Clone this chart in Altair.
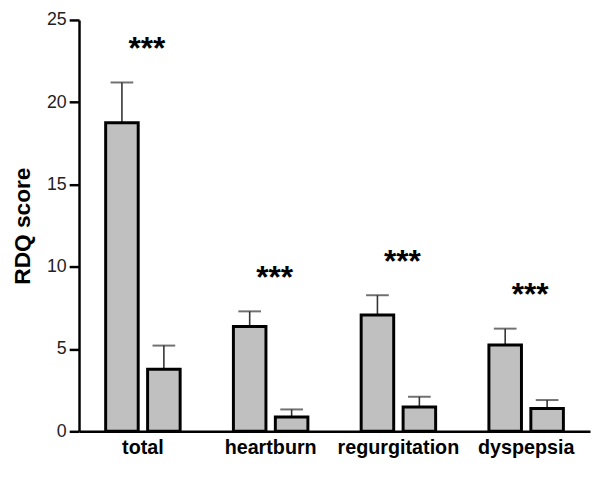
import altair as alt
import pandas as pd

categories = ["total", "heartburn", "regurgitation", "dyspepsia"]
groups = ["before", "after"]
before_mean = [18.75, 6.37, 7.07, 5.24]
before_err = [2.45, 0.92, 1.20, 1.00]
after_mean = [3.77, 0.87, 1.48, 1.39]
after_err = [1.44, 0.46, 0.62, 0.51]
stars = ["***", "***", "***", "***"]
y_ticks = [0, 5, 10, 15, 20, 25]

rows = []
for i, c in enumerate(categories):
    rows.append({"cat": c, "grp": groups[0], "mean": before_mean[i],
                 "upper": before_mean[i] + before_err[i], "star": stars[i]})
    rows.append({"cat": c, "grp": groups[1], "mean": after_mean[i],
                 "upper": after_mean[i] + after_err[i], "star": ""})
df = pd.DataFrame(rows)

FONT = "Liberation Sans"
W, H = 518, 417

x = alt.X("cat:N", sort=categories,
          scale=alt.Scale(paddingInner=0, paddingOuter=0),
          axis=alt.Axis(title=None, ticks=False, domainColor="black",
                        domainWidth=2.5, labelAngle=0, labelFont=FONT,
                        labelFontSize=20, labelFontWeight="bold",
                        labelColor="black", labelPadding=7))
xo = alt.XOffset("grp:N", sort=groups,
                 scale=alt.Scale(paddingInner=0.224, paddingOuter=0.635))
yscale = alt.Scale(domain=[0, 25], nice=False)
yaxis = alt.Axis(title="RDQ score", values=y_ticks, grid=False,
                 domainColor="black", domainWidth=2.5, tickColor="black",
                 tickWidth=2.5, tickSize=10, labelFont=FONT, labelFontSize=18,
                 labelColor="#222222", labelPadding=3, titleFont=FONT,
                 titleFontSize=23, titleFontWeight="bold", titleColor="black",
                 titleX=-50, titleY=H / 2, titleBaseline="alphabetic")

base = alt.Chart(df)

rules = base.mark_rule(color="#333333", strokeWidth=1.6).encode(
    x=x, xOffset=xo,
    y=alt.Y("mean:Q", scale=yscale, axis=yaxis),
    y2="upper:Q")

caps = base.mark_tick(color="#333333", thickness=2, size=23).encode(
    x=x, xOffset=xo, y=alt.Y("upper:Q", scale=yscale))

bars = base.mark_bar(fill="#c0c0c0", stroke="black", strokeWidth=3).encode(
    x=x, xOffset=xo, y=alt.Y("mean:Q", scale=yscale))

text = base.transform_filter(alt.datum.grp == groups[0]).mark_text(
    font=FONT, fontSize=32, fontWeight="bold", color="black",
    baseline="alphabetic", dy=-24, dx=4).encode(
    x=x, y=alt.Y("upper:Q", scale=yscale), text="star:N")

chart = alt.layer(rules, caps, bars, text).properties(
    width=W, height=H,
    padding={"left": 72, "top": 9, "right": 2, "bottom": 28},
    autosize=alt.AutoSizeParams(type="none"),
).configure_view(stroke=None)

chart.save("out.html", embed_options={"renderer": "svg", "actions": False})
